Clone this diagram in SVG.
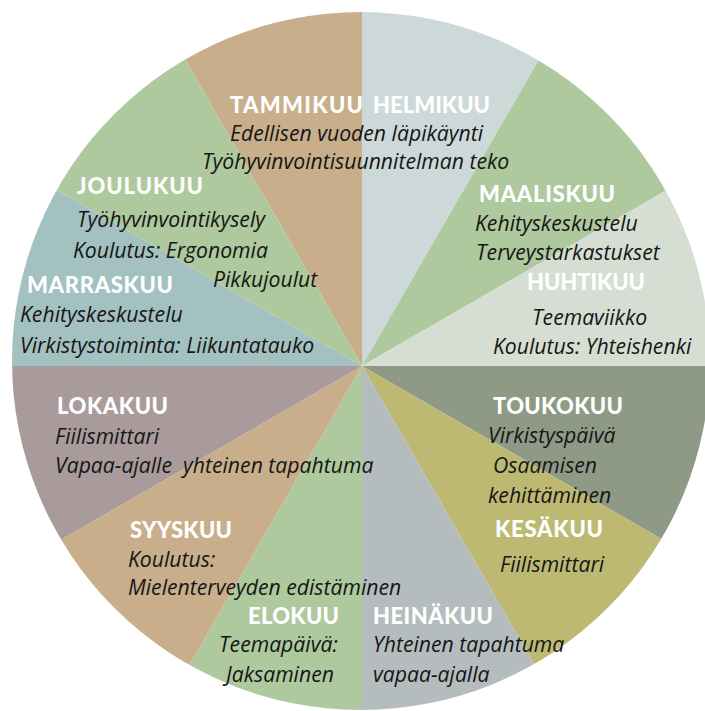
<svg xmlns="http://www.w3.org/2000/svg" width="705" height="711" viewBox="0 0 705 711">
<style>
.m{font-family:Lato,"Open Sans","Liberation Sans",sans-serif;font-weight:900;font-size:22px;fill:#ffffff;}
.t{font-family:"Open Sans","Liberation Sans",sans-serif;font-style:italic;font-size:21.2px;fill:#161616;white-space:pre;}
</style>
<defs>
<clipPath id="circ"><circle cx="361" cy="361" r="349"/></clipPath>
</defs>
<rect width="705" height="711" fill="#ffffff"/>
<g clip-path="url(#circ)">
<g id="tammikuu-s"><polygon points="362,366 152,2.3 362,-54" fill="#c8ae8b"/></g>
<g id="helmikuu-s"><polygon points="362,366 362,-54 572,2.3" fill="#cdd8d9"/></g>
<g id="maaliskuu-s"><polygon points="362,366 572,2.3 725.7,156" fill="#adc99d"/></g>
<g id="huhtikuu-s"><polygon points="362,366 725.7,156 782,366" fill="#d6ddd2"/></g>
<g id="toukokuu-s"><polygon points="362,366 782,366 725.7,576" fill="#8e9986"/></g>
<g id="kesakuu-s"><polygon points="362,366 725.7,576 572,729.7" fill="#bdb973"/></g>
<g id="heinakuu-s"><polygon points="362,366 572,729.7 362,786" fill="#b5bcbd"/></g>
<g id="elokuu-s"><polygon points="362,366 362,786 152,729.7" fill="#adc99d"/></g>
<g id="syyskuu-s"><polygon points="362,366 152,729.7 -1.7,576" fill="#c8ae8b"/></g>
<g id="lokakuu-s"><polygon points="362,366 -1.7,576 -58,366" fill="#a99b9c"/></g>
<g id="marraskuu-s"><polygon points="362,366 -58,366 -1.7,156" fill="#a3c1c0"/></g>
<g id="joulukuu-s"><polygon points="362,366 -1.7,156 152,2.3" fill="#adc99d"/></g>
</g>
<g id="tammikuu">
<text class="m" x="230" y="113" textLength="133" lengthAdjust="spacing">TAMMIKUU</text>
<text class="t" x="230" y="141">Edellisen vuoden läpikäynti</text>
<text class="t" x="202" y="169">Työhyvinvointisuunnitelman teko</text>
</g>
<g id="helmikuu">
<text class="m" x="373" y="113" textLength="117" lengthAdjust="spacing">HELMIKUU</text>
</g>
<g id="maaliskuu">
<text class="m" x="479" y="202" textLength="136" lengthAdjust="spacing">MAALISKUU</text>
<text class="t" x="475" y="231">Kehityskeskustelu</text>
<text class="t" x="476" y="260">Terveystarkastukset</text>
</g>
<g id="huhtikuu">
<text class="m" x="527" y="290" textLength="118" lengthAdjust="spacing">HUHTIKUU</text>
<text class="t" x="532" y="325">Teemaviikko</text>
<text class="t" x="493" y="354">Koulutus: Yhteishenki</text>
</g>
<g id="toukokuu">
<text class="m" x="493" y="414" textLength="130" lengthAdjust="spacing">TOUKOKUU</text>
<text class="t" x="488" y="443">Virkistyspäivä</text>
<text class="t" x="493" y="473">Osaamisen</text>
<text class="t" x="488" y="503">kehittäminen</text>
</g>
<g id="kesakuu">
<text class="m" x="495" y="537" textLength="108" lengthAdjust="spacing">KESÄKUU</text>
<text class="t" x="500" y="572">Fiilismittari</text>
</g>
<g id="heinakuu">
<text class="m" x="373" y="624" textLength="120" lengthAdjust="spacing">HEINÄKUU</text>
<text class="t" x="373" y="652">Yhteinen tapahtuma</text>
<text class="t" x="373" y="682">vapaa-ajalla</text>
</g>
<g id="elokuu">
<text class="m" x="248" y="624" textLength="91" lengthAdjust="spacing">ELOKUU</text>
<text class="t" x="219" y="652">Teemapäivä:</text>
<text class="t" x="226" y="682">Jaksaminen</text>
</g>
<g id="syyskuu">
<text class="m" x="130" y="538" textLength="102" lengthAdjust="spacing">SYYSKUU</text>
<text class="t" x="128" y="567">Koulutus:</text>
<text class="t" x="128" y="595">Mielenterveyden edistäminen</text>
</g>
<g id="lokakuu">
<text class="m" x="57" y="414" textLength="111" lengthAdjust="spacing">LOKAKUU</text>
<text class="t" x="55" y="444">Fiilismittari</text>
<text class="t" x="55" y="473">Vapaa-ajalle  yhteinen tapahtuma</text>
</g>
<g id="marraskuu">
<text class="m" x="27" y="293" textLength="146" lengthAdjust="spacing">MARRASKUU</text>
<text class="t" x="20" y="322">Kehityskeskustelu</text>
<text class="t" x="20" y="353">Virkistystoiminta: Liikuntatauko</text>
</g>
<g id="joulukuu">
<text class="m" x="77" y="194" textLength="126" lengthAdjust="spacing">JOULUKUU</text>
<text class="t" x="77" y="227">Työhyvinvointikysely</text>
<text class="t" x="73" y="258">Koulutus: Ergonomia</text>
<text class="t" x="213" y="287">Pikkujoulut</text>
</g>
</svg>
